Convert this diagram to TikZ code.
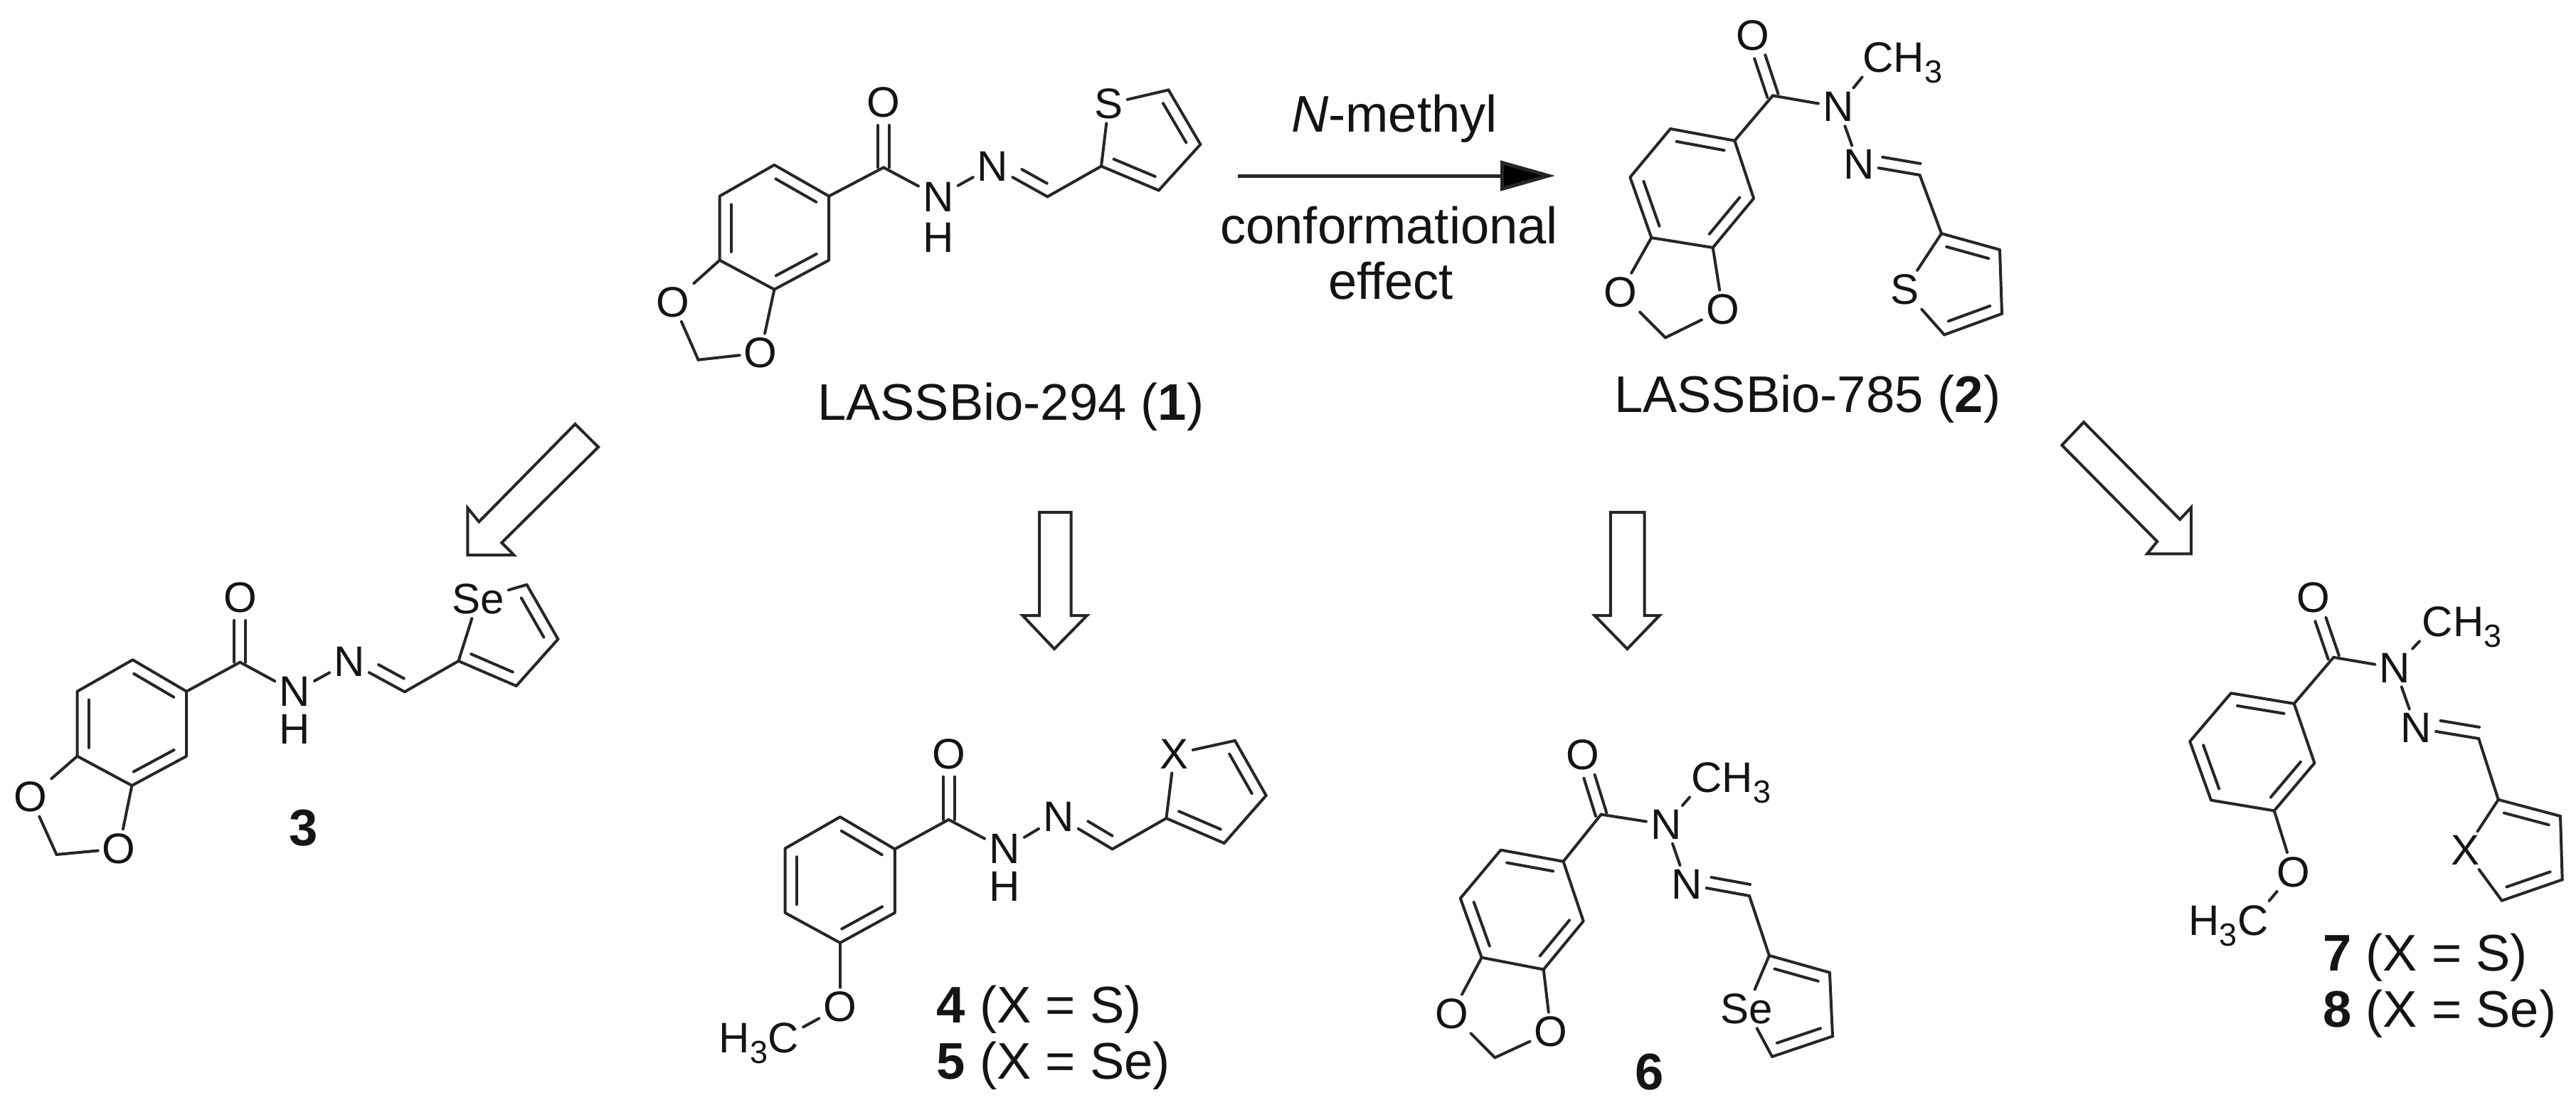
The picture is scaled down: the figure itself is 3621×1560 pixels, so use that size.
\documentclass[tikz,border=0pt]{standalone}
\usepackage{fontspec}
\setmainfont{Liberation Sans}
\usetikzlibrary{calc,arrows.meta}
\definecolor{ink}{HTML}{262626}
\definecolor{txt}{HTML}{141414}
\newcommand\atomfont{\fontsize{60pt}{60pt}\selectfont}
\newcommand\capfont{\fontsize{72.4pt}{80pt}\selectfont}
\newcommand\subthree{\raisebox{-15pt}{\fontsize{45pt}{45pt}\selectfont 3}}
\tikzset{
  bond/.style={line width=4pt,line cap=round,line join=round,draw=ink},
  atom/.style={inner sep=6pt,font=\atomfont,text=txt},
  hthree/.style={inner sep=0pt,font=\atomfont,text=txt,anchor=base west},
  lbl/.style={inner sep=0pt,font=\capfont,text=txt,anchor=base west},
  num/.style={inner sep=0pt,font=\capfont\bfseries,text=txt},
  hollow/.style={line width=4pt,line join=miter,draw=ink,fill=white},
}
\newcommand\cpt[3]{\coordinate (#1) at (#2,#3);}
\newcommand\bd[2]{\draw[bond] (#1)--(#2);}
% inner line of a double bond: from, to, start fraction, end fraction, offset (+ = visual left)
\newcommand\inb[5]{\draw[bond] ($(#1)!#3!(#2)!#5pt!90:(#2)$)--($(#1)!#4!(#2)!#5pt!90:(#2)$);}
% symmetric C=O
\newcommand\cdo[2]{%
  \draw[bond,shorten >=32pt] ($(#1)!8pt!90:(#2)$)--($(#2)!8pt!-90:(#1)$);
  \draw[bond,shorten >=32pt] ($(#1)!8pt!-90:(#2)$)--($(#2)!8pt!90:(#1)$);}
\newcommand\benz[1]{%
  \draw[bond] (#1a)--(#1b)--(#1c)--(#1d)--(#1e)--(#1f)--cycle;
  \inb{#1a}{#1b}{.13}{.87}{-16}\inb{#1c}{#1d}{.13}{.87}{-16}\inb{#1e}{#1f}{.13}{.87}{-16}}
\newcommand\dioxole[1]{\bd{#1e}{#1ox}\bd{#1d}{#1oy}\bd{#1ox}{#1ch}\bd{#1oy}{#1ch}}
% prefix, t0, t1, ring offset (signed)
\newcommand\chain[4]{%
  \bd{#1b}{#1C}\cdo{#1C}{#1O}\bd{#1C}{#1Na}\bd{#1Na}{#1Nb}\bd{#1Nb}{#1CH}%
  \inb{#1Nb}{#1CH}{#2}{#3}{16}\bd{#1CH}{#1r2}\bd{#1r2}{#1X}\bd{#1X}{#1r5}%
  \bd{#1r5}{#1r4}\bd{#1r4}{#1r3}\bd{#1r3}{#1r2}%
  \inb{#1r2}{#1r3}{.14}{.86}{#4}\inb{#1r4}{#1r5}{.14}{.86}{#4}}
\begin{document}
\begin{tikzpicture}[x=1pt,y=-1pt]
\fill[white] (0,0) rectangle (3621,1560);
\useasboundingbox (0,0) rectangle (3621,1560);

%% compound 1
\cpt{ma}{1088.4}{231.8}\cpt{mb}{1165.2}{275.7}\cpt{mc}{1165.2}{365.7}
\cpt{md}{1088.4}{406.8}\cpt{me}{1011.6}{365.7}\cpt{mf}{1011.6}{275.7}
\cpt{mC}{1242}{235.4}\cpt{mCH}{1472.4}{276.4}\cpt{mr2}{1548}{233.6}
\cpt{mr3}{1628.8}{267.5}\cpt{mr4}{1687.4}{203}\cpt{mr5}{1642.5}{126.4}\cpt{mch}{981.5}{505.7}
\node[atom] (mO) at (1242,144) {O};
\node[atom] (mNa) at (1318.8,276.4) {N};
\node[atom] (mH) at (1318.8,333.6) {H};
\node[atom] (mNb) at (1395.6,233.6) {N};
\node[atom] (mX) at (1558.5,146) {S};
\node[atom] (mox) at (945.8,424.6) {O};
\node[atom] (moy) at (1069.2,496) {O};
\benz{m}\dioxole{m}\chain{m}{.43}{.89}{16}
\node[lbl] (tone) at (1148.8,590.7) {LASSBio-294 (\textbf{1})};

%% reaction arrow
\coordinate (rs) at (1740,247);
\coordinate (re) at (2186,247);
\draw[line width=5pt,draw=ink,-{Triangle[length=77pt,width=42pt,fill=black]}] (rs)--(re);
\node[lbl] (tma) at (1814.8,185) {\textit{N}-methyl};
\node[lbl] (tmb) at (1715,342) {conformational};
\node[lbl] (tmc) at (1866.8,420) {effect};

%% compound 2
\cpt{na}{2348}{181}\cpt{nb}{2438.3}{197.7}\cpt{nc}{2465.1}{278.8}
\cpt{nd}{2407.7}{348}\cpt{ne}{2321.3}{334.1}\cpt{nf}{2291.4}{249.1}
\cpt{nC}{2491.9}{134.4}\cpt{nCH}{2698.5}{246}\cpt{nr2}{2729}{328.2}
\cpt{nr3}{2811}{351}\cpt{nr4}{2814}{440.9}\cpt{nr5}{2733}{470.5}\cpt{nch}{2341}{474.5}
\node[atom] (nO) at (2463.6,49.4) {O};
\node[atom] (nNa) at (2583.7,150.3) {N};
\node[atom] (nMe) at (2639.7,81) {C};
\node[hthree] (nMh) at (nMe.base east) [xshift=-6pt] {H\subthree};
\node[atom] (nNb) at (2612.8,231.3) {N};
\node[atom] (nX) at (2677,407.3) {S};
\node[atom] (nox) at (2277.7,411.2) {O};
\node[atom] (noy) at (2421.5,435) {O};
\benz{n}\dioxole{n}\chain{n}{.36}{.98}{-16}
\bd{nNa}{nMe}
\node[lbl] (ttwo) at (2268.8,579.3) {LASSBio-785 (\textbf{2})};

%% compound 3
\cpt{pa}{186.5}{927.3}\cpt{pb}{262.2}{971.7}\cpt{pc}{262.2}{1062.7}
\cpt{pd}{185.4}{1104}\cpt{pe}{108.6}{1062.7}\cpt{pf}{108.6}{971.7}
\cpt{pC}{337.4}{930.7}\cpt{pCH}{568.8}{972.3}\cpt{pr2}{644.5}{929}
\cpt{pr3}{725.7}{964}\cpt{pr4}{784.4}{898.3}\cpt{pr5}{740.5}{821.7}\cpt{pch}{79.5}{1201}
\node[atom] (pO) at (337.4,840) {O};
\node[atom] (pNa) at (414.2,972.3) {N};
\node[atom] (pH) at (414.2,1025) {H};
\node[atom] (pNb) at (491,930) {N};
\node[atom] (pX) at (672,841.7) {Se};
\node[atom] (pox) at (42.8,1120) {O};
\node[atom] (poy) at (167.3,1192.7) {O};
\benz{p}\dioxole{p}\chain{p}{.43}{.89}{16}
\node[num] (tthree) at (426.8,1163.3) {3};

%% compound 4/5
\cpt{qa}{1180.9}{1148.1}\cpt{qb}{1257.8}{1193.3}\cpt{qc}{1257.8}{1282.8}
\cpt{qd}{1180.9}{1325}\cpt{qe}{1103.5}{1282.8}\cpt{qf}{1103.5}{1192.5}
\cpt{qC}{1333.5}{1151.9}\cpt{qCH}{1563.6}{1193.3}\cpt{qr2}{1639.4}{1150}
\cpt{qr3}{1720.8}{1185}\cpt{qr4}{1779.7}{1118}\cpt{qr5}{1735.9}{1040.9}
\node[atom] (qO) at (1333.5,1059.7) {O};
\node[atom] (qNa) at (1412,1193.3) {N};
\node[atom] (qH) at (1412,1246) {H};
\node[atom] (qNb) at (1487.9,1148.1) {N};
\node[atom] (qX) at (1650.6,1059.7) {X};
\node[atom] (qOm) at (1180.9,1415.2) {O};
\node[atom] (qMe) at (1101.3,1458.5) {C};
\node[hthree,anchor=base east] (qMh) at (qMe.base west) [xshift=6pt] {H\subthree};
\benz{q}\chain{q}{.44}{.89}{16}
\bd{qd}{qOm}\bd{qOm}{qMe}
\node[lbl] (tfour) at (1316.7,1437.8) {\textbf{4} (X = S)};
\node[lbl] (tfive) at (1316.7,1516.8) {\textbf{5} (X = Se)};

%% compound 6
\cpt{sa}{2109.6}{1194.6}\cpt{sb}{2197.5}{1210.7}\cpt{sc}{2225.7}{1294.6}
\cpt{sd}{2169.7}{1362.5}\cpt{se}{2082.7}{1345.7}\cpt{sf}{2052.8}{1262.5}
\cpt{sC}{2250.6}{1144.6}\cpt{sCH}{2459}{1259}\cpt{sr2}{2486.9}{1342.9}
\cpt{sr3}{2571.9}{1366.8}\cpt{sr4}{2576}{1456.4}\cpt{sr5}{2491}{1485}\cpt{sch}{2101.3}{1486.4}
\node[atom] (sO) at (2224.5,1060.7) {O};
\node[atom] (sNa) at (2341.8,1158.9) {N};
\node[atom] (sMe) at (2398.7,1093) {C};
\node[hthree] (sMh) at (sMe.base east) [xshift=-6pt] {H\subthree};
\node[atom] (sNb) at (2370.8,1242.9) {N};
\node[atom] (sX) at (2455,1417.9) {Se};
\node[atom] (sox) at (2040.4,1425) {O};
\node[atom] (soy) at (2180,1450) {O};
\benz{s}\dioxole{s}\chain{s}{.36}{.98}{-16}
\bd{sNa}{sMe}
\node[num] (tsix) at (2319,1507) {6};

%% compound 7/8
\cpt{ua}{3136}{974.2}\cpt{ub}{3224.7}{988.9}\cpt{uc}{3253.4}{1072.4}
\cpt{ud}{3196.8}{1139.4}\cpt{ue}{3108}{1124.6}\cpt{uf}{3078.2}{1042}
\cpt{uC}{3280.2}{923.8}\cpt{uCH}{3484.2}{1038}\cpt{ur2}{3511.8}{1123.8}
\cpt{ur3}{3599}{1147}\cpt{ur4}{3601.7}{1236.3}\cpt{ur5}{3516.7}{1265.7}
\node[atom] (uO) at (3251.5,840.3) {O};
\node[atom] (uNa) at (3366.3,938.5) {N};
\node[atom] (uMe) at (3426.3,873.8) {C};
\node[hthree] (uMh) at (uMe.base east) [xshift=-6pt] {H\subthree};
\node[atom] (uNb) at (3396.2,1023.3) {N};
\node[atom] (uX) at (3465,1195.2) {X};
\node[atom] (uOm) at (3223.6,1225.5) {O};
\node[atom] (uMc) at (3166.7,1293.4) {C};
\node[hthree,anchor=base east] (uMh2) at (uMc.base west) [xshift=6pt] {H\subthree};
\benz{u}\chain{u}{.36}{.98}{-16}
\bd{uNa}{uMe}\bd{ud}{uOm}\bd{uOm}{uMc}
\node[lbl] (tseven) at (3265,1364.8) {\textbf{7} (X = S)};
\node[lbl] (teight) at (3265,1443.8) {\textbf{8} (X = Se)};

%% hollow arrows
\draw[hollow] (808.5,596)--(841,628.3)--(705.2,762.7)--(722.4,780)--(657.4,780)--(657.4,714)--(673.3,733.3)--cycle;
\draw[hollow] (1461,720)--(1505.6,720)--(1505.6,865)--(1528,865)--(1482,912)--(1437.4,865)--(1461,865)--cycle;
\draw[hollow] (2263.8,720)--(2311.6,720)--(2311.6,865)--(2332.7,865)--(2287.4,912)--(2241.5,865)--(2263.8,865)--cycle;
\draw[hollow] (2929,593.3)--(2898.3,625.7)--(3032.3,761)--(3018.2,778.3)--(3080,778.3)--(3080,713.3)--(3064.2,730)--cycle;
\end{tikzpicture}
\end{document}
